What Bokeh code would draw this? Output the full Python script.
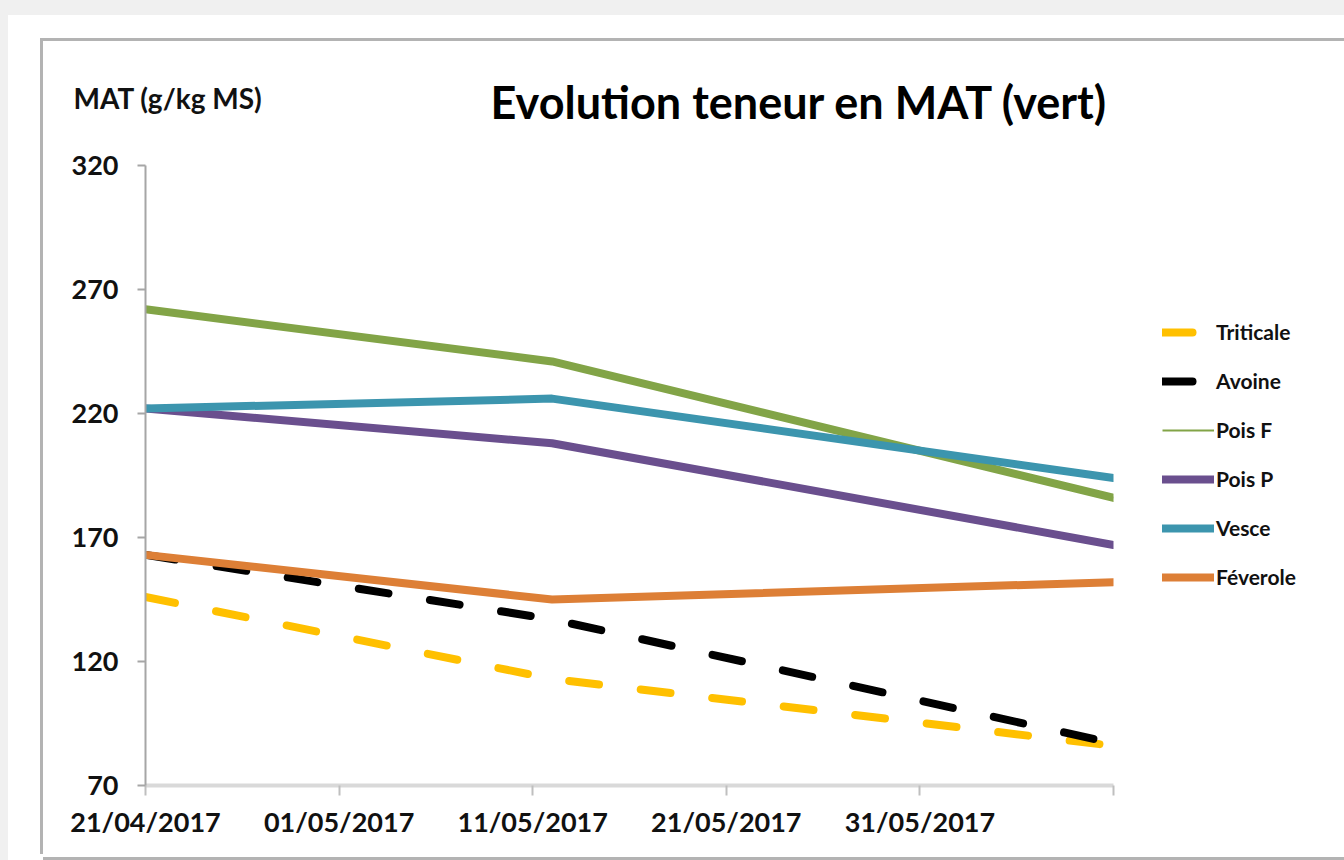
from datetime import datetime
from bokeh.plotting import figure
from bokeh.models import (Range1d, FixedTicker, DatetimeTickFormatter, Legend, LegendItem, Label)
from bokeh.embed import file_html
from bokeh.resources import INLINE

# ---- data ----
dates = [datetime(2017, 4, 21), datetime(2017, 5, 12), datetime(2017, 6, 10)]
triticale = [146, 113, 86]
avoine = [163, 137, 87]
pois_f = [262, 241, 186]
pois_p = [222, 208, 167]
vesce = [222, 226, 194]
feverole = [163, 145, 152]

x_tick_dates = [datetime(2017, 4, 21), datetime(2017, 5, 1), datetime(2017, 5, 11),
                datetime(2017, 5, 21), datetime(2017, 5, 31), datetime(2017, 6, 10)]
y_ticks = [70, 120, 170, 220, 270, 320]

title_text = "Evolution teneur en MAT (vert)"
y_label = "MAT (g/kg MS)"

FONT = "Lato"

p = figure(frame_width=968, frame_height=620, output_backend="svg", toolbar_location=None,
           x_axis_type="datetime",
           x_range=Range1d(datetime(2017, 4, 21), datetime(2017, 6, 10)),
           y_range=Range1d(70, 320),
           min_border_left=102, min_border_right=231, min_border_top=124, min_border_bottom=72)
p.margin = (41, 0, 0, 43)
# chart frame (grey border left/top/bottom) and the page's light grey edge strips
p.styles = {"box-shadow": "-3px -3px 0 0 #b3b3b3, 0 3px 0 0 #b3b3b3, "
                          "5px 14px 0 40px #ffffff, 0 0 0 100px #f0f0f0"}
p.background_fill_color = "white"
p.border_fill_color = "white"
p.outline_line_color = None
p.xgrid.visible = False
p.ygrid.visible = False

def ms(d):
    return (d - datetime(1970, 1, 1)).total_seconds() * 1000.0

tick_ms = [ms(d) for d in x_tick_dates]
p.xaxis.ticker = FixedTicker(ticks=tick_ms)
p.xaxis.formatter = DatetimeTickFormatter(days="%d/%m/%Y", months="%d/%m/%Y")
p.xaxis.major_label_overrides = {tick_ms[-1]: ""}
p.xaxis.axis_line_color = "#d9d9d9"
p.xaxis.axis_line_width = 4
p.xaxis.major_tick_line_color = "#bfbfbf"
p.xaxis.major_tick_line_width = 2
p.xaxis.major_tick_out = 10
p.xaxis.major_tick_in = 0
p.xaxis.minor_tick_line_color = None
p.xaxis.major_label_standoff = 9
p.xaxis.major_label_text_font = FONT
p.xaxis.major_label_text_font_style = "bold"
p.xaxis.major_label_text_font_size = "27px"
p.xaxis.major_label_text_color = "#111111"

p.yaxis.ticker = FixedTicker(ticks=y_ticks)
p.yaxis.axis_line_color = "#a6a6a6"
p.yaxis.axis_line_width = 2
p.yaxis.major_tick_line_color = "#a6a6a6"
p.yaxis.major_tick_line_width = 2
p.yaxis.major_tick_out = 8
p.yaxis.major_tick_in = 0
p.yaxis.minor_tick_line_color = None
p.yaxis.major_label_standoff = 19
p.yaxis.major_label_text_font = FONT
p.yaxis.major_label_text_font_style = "bold"
p.yaxis.major_label_text_font_size = "27px"
p.yaxis.major_label_text_color = "#111111"

# series (thin Pois F line first: it only serves as the thin legend key, hidden under the thick one)
r_pf_leg = p.line(dates, pois_f, line_color="#82a447", line_width=2)
r_tri = p.line(dates, triticale, line_color="#ffc000", line_width=8, line_dash="30 42",
               line_cap="round")
r_avo = p.line(dates, avoine, line_color="#000000", line_width=8, line_dash="30 42",
               line_cap="round")
r_pf = p.line(dates, pois_f, line_color="#82a447", line_width=8, line_cap="round",
              line_join="round")
r_pp = p.line(dates, pois_p, line_color="#6a4f8e", line_width=8, line_cap="round",
              line_join="round")
r_ves = p.line(dates, vesce, line_color="#3c95ae", line_width=8, line_cap="round",
               line_join="round")
r_fev = p.line(dates, feverole, line_color="#dd7f36", line_width=8, line_cap="round",
               line_join="round")

legend = Legend(items=[
    LegendItem(label="Triticale", renderers=[r_tri]),
    LegendItem(label="Avoine", renderers=[r_avo]),
    LegendItem(label="Pois F", renderers=[r_pf_leg]),
    LegendItem(label="Pois P", renderers=[r_pp]),
    LegendItem(label="Vesce", renderers=[r_ves]),
    LegendItem(label="Féverole", renderers=[r_fev]),
], location=(49, 196))
legend.border_line_color = None
legend.background_fill_alpha = 0
legend.padding = 0
legend.margin = 0
legend.spacing = 24
legend.glyph_width = 52
legend.glyph_height = 20
legend.label_height = 20
legend.label_standoff = 2
legend.label_text_font = FONT
legend.label_text_font_style = "bold"
legend.label_text_font_size = "21px"
legend.label_text_color = "#111111"
p.add_layout(legend, "right")

# y-axis caption and title (top panel, screen units)
p.add_layout(Label(x=-72, y=68, x_units="screen", y_units="screen", text=y_label,
                   text_align="left", text_baseline="middle", text_font=FONT,
                   text_font_style="bold", text_font_size="28px", text_color="#111111"), "above")
p.add_layout(Label(x=654, y=30, x_units="screen", y_units="screen", text=title_text,
                   text_align="center", text_baseline="middle", text_font=FONT,
                   text_font_style="bold", text_font_size="45px", text_color="#000000"), "above")

open("out.html", "w").write(file_html(p, INLINE))
